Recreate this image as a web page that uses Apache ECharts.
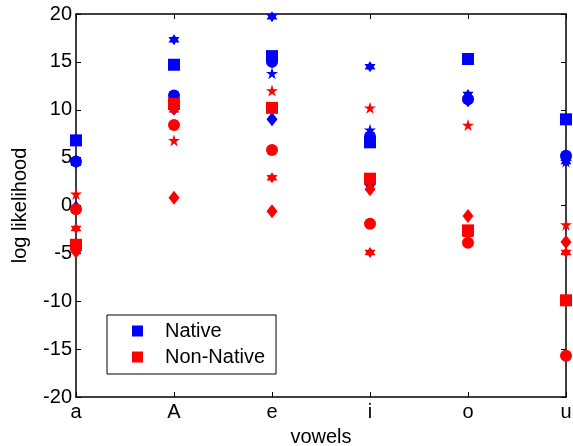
<!DOCTYPE html>
<html>
<head>
<meta charset="utf-8">
<script src="https://cdn.jsdelivr.net/npm/echarts@6/dist/echarts.min.js"></script>
<style>
  html, body { margin: 0; padding: 0; background: #fff; }
  #chart { width: 573px; height: 446px; }
</style>
</head>
<body>
<div id="chart"></div>
<script>
// vowels on the x axis
var vowels = ['a', 'A', 'e', 'i', 'o', 'u']

// native speakers (blue), one array per marker
var nativeSquare = [6.8, 14.7, 15.6, 6.6, 15.3, 9.0]
var nativeCircle = [4.6, 11.5, 15.0, 7.2, 11.1, 5.2]
var nativeDiamond = [-0.2, 10.1, 9.0, 2.2, 11.0, 5.0]
var nativePentagram = [7.0, 10.3, 13.8, 7.9, 11.3, 4.6]
var nativeHexagram = [4.4, 17.3, 19.7, 14.5, 11.6, 4.6]

// non-native speakers (red)
var nonNativeSquare = [-4.1, 10.6, 10.2, 2.8, -2.6, -9.9]
var nonNativeCircle = [-0.4, 8.4, 5.8, -1.9, -3.9, -15.7]
var nonNativeDiamond = [-4.8, 0.8, -0.6, 1.7, -1.1, -3.8]
var nonNativePentagram = [1.2, 6.8, 12.0, 10.2, 8.4, -2.0]
var nonNativeHexagram = [-2.4, 10.0, 2.9, -4.9, -3.0, -4.9]

var hexagram = 'path://M0,-10 L2.887,-5 L8.66,-5 L5.774,0 L8.66,5 L2.887,5 L0,10 L-2.887,5 L-8.66,5 L-5.774,0 L-8.66,-5 L-2.887,-5 Z'
var pentagram = 'path://M0,-10 L2.245,-3.09 L9.511,-3.09 L3.633,1.18 L5.878,8.09 L0,3.82 L-5.878,8.09 L-3.633,1.18 L-9.511,-3.09 L-2.245,-3.09 Z'

var font = 'Liberation Sans, Arial, sans-serif'

function makeSeries(name, data, color, symbol, size) {
  return {
    name: name,
    type: 'scatter',
    data: data,
    symbol: symbol,
    symbolSize: size,
    itemStyle: { color: color, opacity: 1 },
    emphasis: { disabled: true },
    xAxisIndex: 0,
    yAxisIndex: 0
  }
}

var groups = [
  { color: '#0000ff', label: 'Native', sets: [nativeDiamond, nativeCircle, nativeSquare, nativePentagram, nativeHexagram] },
  { color: '#ff0000', label: 'Non-Native', sets: [nonNativeDiamond, nonNativeCircle, nonNativeSquare, nonNativePentagram, nonNativeHexagram] }
]
var shapes = [
  { symbol: 'diamond', size: [11, 14] },
  { symbol: 'circle', size: 12 },
  { symbol: 'rect', size: 12 },
  { symbol: pentagram, size: 12 },
  { symbol: hexagram, size: 11 }
]

var series = []
groups.forEach(function(g) {
  g.sets.forEach(function(set, i) {
    var nm = shapes[i].symbol === 'rect' ? g.label : g.label + '_' + i
    series.push(makeSeries(nm, set, g.color, shapes[i].symbol, shapes[i].size))
  })
})

var chart = echarts.init(document.getElementById('chart'))
chart.setOption({
  animation: false,
  backgroundColor: '#fff',
  grid: { left: 76, right: 7, top: 14, bottom: 49, containLabel: false, outerBoundsMode: 'none' },
  legend: {
    data: ['Native', 'Non-Native'],
    orient: 'vertical',
    left: 107,
    top: 315,
    padding: [6, 11, 7, 25],
    itemGap: 6,
    itemWidth: 11,
    itemHeight: 11,
    icon: 'rect',
    borderColor: '#000',
    borderWidth: 1,
    backgroundColor: '#fff',
    selectedMode: false,
    textStyle: { fontFamily: font, fontSize: 20, color: '#000', padding: [0, 0, 0, 17] }
  },
  xAxis: [
    {
      type: 'category',
      data: vowels,
      boundaryGap: false,
      name: 'vowels',
      nameLocation: 'middle',
      nameGap: 30,
      nameTextStyle: { fontFamily: font, fontSize: 20, color: '#000' },
      axisLine: { onZero: false, lineStyle: { color: '#000', width: 1.5 } },
      axisTick: { inside: true, length: 5, lineStyle: { color: '#000' } },
      axisLabel: { fontFamily: font, fontSize: 20, color: '#000', margin: 5 },
      splitLine: { show: false }
    },
    {
      type: 'category',
      data: vowels,
      boundaryGap: false,
      position: 'top',
      axisLine: { onZero: false, lineStyle: { color: '#000', width: 1.5 } },
      axisTick: { inside: true, length: 5, lineStyle: { color: '#000' } },
      axisLabel: { show: false }
    }
  ],
  yAxis: [
    {
      type: 'value',
      min: -20,
      max: 20,
      interval: 5,
      name: 'log likelihood',
      nameLocation: 'middle',
      nameGap: 46,
      nameTextStyle: { fontFamily: font, fontSize: 20, color: '#000' },
      axisLine: { show: true, onZero: false, lineStyle: { color: '#000', width: 1.5 } },
      axisTick: { show: true, inside: true, length: 5, lineStyle: { color: '#000' } },
      axisLabel: { fontFamily: font, fontSize: 20, color: '#000', margin: 4 },
      splitLine: { show: false }
    },
    {
      type: 'value',
      min: -20,
      max: 20,
      interval: 5,
      position: 'right',
      axisLine: { show: true, onZero: false, lineStyle: { color: '#000', width: 1.5 } },
      axisTick: { show: true, inside: true, length: 5, lineStyle: { color: '#000' } },
      axisLabel: { show: false },
      splitLine: { show: false }
    }
  ],
  series: series
})
</script>
</body>
</html>
